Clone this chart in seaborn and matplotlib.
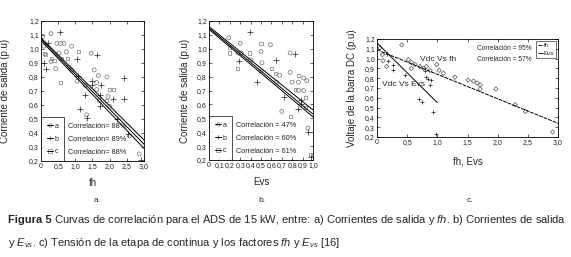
import numpy as np
import pandas as pd
import matplotlib
matplotlib.use("Agg")
import matplotlib.pyplot as plt
import seaborn as sns
from matplotlib.lines import Line2D
from matplotlib.ticker import FuncFormatter, MultipleLocator

# ---------- data ----------
# panel a: output current vs fh
a_xa = [0.05, 0.29, 0.46, 0.57, 0.67, 0.89, 0.08, 0.74, 1.46, 0.52, 0.29, 0.43, 0.81, 0.90,
        1.55, 1.67, 1.92, 1.05, 1.62, 1.29, 1.62, 1.95, 1.70, 2.00, 1.33, 2.57, 2.86]
a_ya = [1.09, 1.11, 1.04, 1.04, 1.04, 1.02, 1.02, 0.98, 0.97, 0.97, 0.91, 0.86, 0.87, 0.85,
        0.85, 0.81, 0.80, 0.77, 0.76, 0.74, 0.71, 0.66, 0.63, 0.59, 0.53, 0.38, 0.25]
a_xb = [0.54, 0.19, 1.62, 1.05, 0.10, 0.14, 1.07, 2.41, 1.48, 1.50, 1.74, 1.29, 1.71, 2.10,
        2.41, 1.71, 1.14, 1.33, 2.22, 2.52, 2.90]
a_yb = [1.12, 1.04, 0.96, 0.93, 0.90, 0.86, 0.81, 0.79, 0.77, 0.74, 0.74, 0.67, 0.67, 0.64,
        0.64, 0.59, 0.57, 0.51, 0.50, 0.39, 0.21]
a_xc = [0.10, 1.10, 0.14, 0.76, 0.38, 0.57, 2.00, 2.10, 1.90, 0.60, 0.30]
a_yc = [0.97, 0.98, 0.96, 0.93, 0.92, 0.76, 0.71, 0.71, 0.63, 0.93, 0.93]
a_fit_x = [0.0, 3.0]
a_fit = {"a": [1.08, 0.35], "b": [1.06, 0.29], "c": [1.07, 0.32]}
a_corr = ["Correlación= 88%", "Correlación= 89%", "Correlación= 88%"]

# panel b: output current vs Evs
b_xa = [0.19, 0.30, 0.59, 0.50, 0.78, 0.28, 0.31, 0.40, 0.51, 0.50, 0.68, 0.78, 0.91, 0.94,
        0.65, 0.80, 0.86, 0.86, 0.91, 0.70, 0.95]
b_ya = [1.08, 1.04, 1.03, 0.98, 0.97, 0.97, 0.97, 0.92, 0.90, 0.84, 0.81, 0.83, 0.79, 0.77,
        0.76, 0.76, 0.76, 0.70, 0.70, 0.55, 0.43]
b_xb = [0.39, 0.83, 0.64, 0.29, 0.72, 0.88, 0.86, 0.95, 0.98, 0.46, 0.88]
b_yb = [1.12, 0.96, 0.92, 0.91, 0.65, 0.63, 0.57, 0.40, 0.22, 0.76, 0.60]
b_xc = [0.50, 0.20, 0.20, 0.39, 0.27, 0.60, 0.64, 0.86, 0.83, 0.93, 0.93, 0.78, 0.98]
b_yc = [1.04, 1.01, 0.97, 0.97, 0.86, 0.86, 0.82, 0.81, 0.71, 0.65, 0.58, 0.51, 0.24]
b_fit_x = [0.0, 1.0]
b_fit = {"a": [1.16, 0.56], "b": [1.14, 0.51], "c": [1.15, 0.53]}
b_corr = ["Correlación = 47%", "Correlación = 60%", "Correlación = 61%"]

# panel c: DC bus voltage vs fh and Evs
c_xfh = [0.05, 0.09, 0.10, 0.16, 0.41, 0.52, 0.57, 0.63, 0.57, 0.71, 0.77, 0.82, 0.88, 0.99,
         1.03, 1.10, 1.29, 1.51, 1.60, 1.66, 1.71, 1.71, 1.97, 2.29, 2.46, 2.91]
c_yfh = [1.11, 1.04, 0.98, 0.92, 1.14, 0.99, 0.96, 0.94, 0.90, 0.92, 0.90, 0.92, 0.88, 0.94,
         0.88, 0.85, 0.81, 0.78, 0.77, 0.75, 0.73, 0.69, 0.69, 0.53, 0.46, 0.25]
c_xev = [0.16, 0.19, 0.26, 0.27, 0.46, 0.79, 0.81, 0.85, 0.89, 0.88, 0.69, 0.75, 0.92, 0.98]
c_yev = [1.05, 0.98, 0.93, 0.88, 0.83, 0.87, 0.81, 0.79, 0.78, 0.73, 0.59, 0.56, 0.46, 0.23]
c_fh_fit_x, c_fh_fit_y = [0.0, 3.0], [1.09, 0.34]
c_ev_fit_x, c_ev_fit_y = [0.0, 1.0], [1.16, 0.55]
c_corr = ["Correlación = 95%", "Correlación = 57%"]

# ---------- style ----------
sns.set_theme(style="ticks")
plt.rcParams["font.family"] = ["Liberation Sans", "DejaVu Sans"]
plt.rcParams["mathtext.fontset"] = "custom"
plt.rcParams["mathtext.rm"] = "Liberation Sans"
plt.rcParams["mathtext.it"] = "Liberation Sans:italic"
plt.rcParams["axes.linewidth"] = 0.6

comma = FuncFormatter(lambda v, p: "0" if abs(v) < 1e-9 else f"{v:.1f}".replace(".", ","))
markers = {"a": "o", "b": "+", "c": "s"}
mcolors = {"a": "#707070", "b": "#222222", "c": "#7a7a7a"}


def style_ax(ax, xmax, xstep):
    ax.set_xlim(0, xmax)
    ax.set_ylim(0.2, 1.2)
    ax.xaxis.set_major_locator(MultipleLocator(xstep))
    ax.yaxis.set_major_locator(MultipleLocator(0.1))
    ax.xaxis.set_major_formatter(comma)
    ax.yaxis.set_major_formatter(comma)
    ax.tick_params(direction="in", top=True, right=True, length=2, width=0.5,
                   labelsize=5, pad=1.5, colors="#222222")
    for s in ax.spines.values():
        s.set_visible(True)
        s.set_color("black")


def scatter(ax, x, y, key, s=8):
    sns.scatterplot(x=x, y=y, ax=ax, marker=markers[key], s=s, color=mcolors[key],
                    facecolor="none" if key != "b" else mcolors[key],
                    edgecolor=mcolors[key], linewidth=0.5)


def fit_line(ax, x, y, lw=0.7):
    sns.lineplot(x=x, y=y, ax=ax, color="black", lw=lw)


def series_legend(ax, corr, text_x):
    handles = [(Line2D([], [], ls="", marker=markers[k], color=mcolors[k], ms=2.5,
                       mfc="none" if k != "b" else mcolors[k], mew=0.5),
                Line2D([], [], color="black", lw=0.7)) for k in "abc"]
    leg = ax.legend(handles, ["a", "b", "c"], loc="lower left", fontsize=5,
                    frameon=True, fancybox=False, borderpad=0.8, handlelength=0.9,
                    handletextpad=0.25, labelspacing=0.85, borderaxespad=0)
    leg.get_frame().set_edgecolor("black")
    leg.get_frame().set_linewidth(0.6)
    for t, yy in zip(corr, [0.247, 0.156, 0.064]):
        ax.text(text_x, yy, t, transform=ax.transAxes, fontsize=5.3, va="center")


W, H = 571, 257
fig = plt.figure(figsize=(W / 100, H / 100), dpi=100)


def axes_px(l, t, r, b):
    return fig.add_axes([l / W, 1 - b / H, (r - l) / W, (b - t) / H])


# panel a
ax1 = axes_px(41, 21, 144, 161)
scatter(ax1, a_xa, a_ya, "a")
scatter(ax1, a_xb, a_yb, "b", s=14)
scatter(ax1, a_xc, a_yc, "c", s=5)
for k in "abc":
    fit_line(ax1, a_fit_x, a_fit[k])
style_ax(ax1, 3.0, 0.5)
series_legend(ax1, a_corr, 0.26)
ax1.set_xlabel("fh", fontsize=7)
ax1.set_ylabel("Corriente de salida (p.u)", fontsize=7)
ax1.xaxis.set_label_coords(0.5, -0.12)
ax1.yaxis.set_label_coords(-0.30, 0.5)

# panel b
ax2 = axes_px(209, 21, 313, 160)
scatter(ax2, b_xa, b_ya, "a")
scatter(ax2, b_xb, b_yb, "b", s=14)
scatter(ax2, b_xc, b_yc, "c", s=5)
for k in "abc":
    fit_line(ax2, b_fit_x, b_fit[k])
style_ax(ax2, 1.0, 0.1)
series_legend(ax2, b_corr, 0.26)
ax2.set_xlabel("Evs", fontsize=7)
ax2.set_ylabel("Corriente de salida (p.u)", fontsize=7)
ax2.xaxis.set_label_coords(0.5, -0.12)
ax2.yaxis.set_label_coords(-0.18, 0.5)

# panel c
ax3 = axes_px(377, 39, 558, 137)
sns.scatterplot(x=c_xfh, y=c_yfh, ax=ax3, marker="D", s=5, facecolor="none",
                edgecolor="#555555", linewidth=0.5)
sns.scatterplot(x=c_xev, y=c_yev, ax=ax3, marker="+", s=12, color="#222222", linewidth=0.5)
sns.lineplot(x=c_fh_fit_x, y=c_fh_fit_y, ax=ax3, color="black", lw=0.7, linestyle=(0, (4, 1)))
sns.lineplot(x=c_ev_fit_x, y=c_ev_fit_y, ax=ax3, color="black", lw=0.7)
style_ax(ax3, 3.0, 0.5)
ax3.text(0.72, 0.99, "Vdc Vs fh", fontsize=6, va="center")
ax3.text(0.08, 0.74, "Vdc Vs Evs", fontsize=6, va="center")
hc = [Line2D([], [], color="black", lw=0.6, ls=(0, (4, 1))), Line2D([], [], color="black", lw=0.6)]
leg = ax3.legend(hc, ["fh", "Evs"], loc="upper right", fontsize=4.5, frameon=True,
                 fancybox=False, borderpad=0.3, handlelength=0.8, handletextpad=0.2,
                 labelspacing=0.4, borderaxespad=0.3)
leg.get_frame().set_edgecolor("black")
leg.get_frame().set_linewidth(0.5)
for t, yy in zip(c_corr, [0.9, 0.79]):
    ax3.text(0.855, yy, t, transform=ax3.transAxes, fontsize=4.8, ha="right", va="center")
ax3.set_xlabel("fh, Evs", fontsize=7)
ax3.set_ylabel("Voltaje de la barra DC (p.u)", fontsize=7)
ax3.xaxis.set_label_coords(0.5, -0.2)
ax3.yaxis.set_label_coords(-0.11, 0.5)

# sub labels
for lab, xp in zip(["a.", "b.", "c."], [97, 262, 470]):
    fig.text(xp / W, 1 - 200 / H, lab, fontsize=6, ha="center", va="center")

# caption
cap_fs = 8.0
renderer = fig.canvas.get_renderer()
t0 = fig.text(8 / W, 1 - 220 / H, "Figura 5", fontsize=cap_fs, fontweight="bold", va="center")
bb = t0.get_window_extent(renderer)
fig.text((bb.x1 + 2) / W, 1 - 220 / H,
         r"Curvas de correlación para el ADS de 15 kW, entre: a) Corrientes de salida y $\it{fh}$. b) Corrientes de salida",
         fontsize=cap_fs, va="center")
fig.text(8 / W, 1 - 243 / H,
         r"y $E_{vs}$. c) Tensión de la etapa de continua y los factores $\it{fh}$ y $E_{vs}$ [16]",
         fontsize=cap_fs, va="center")

fig.savefig("out.png", dpi=100)
